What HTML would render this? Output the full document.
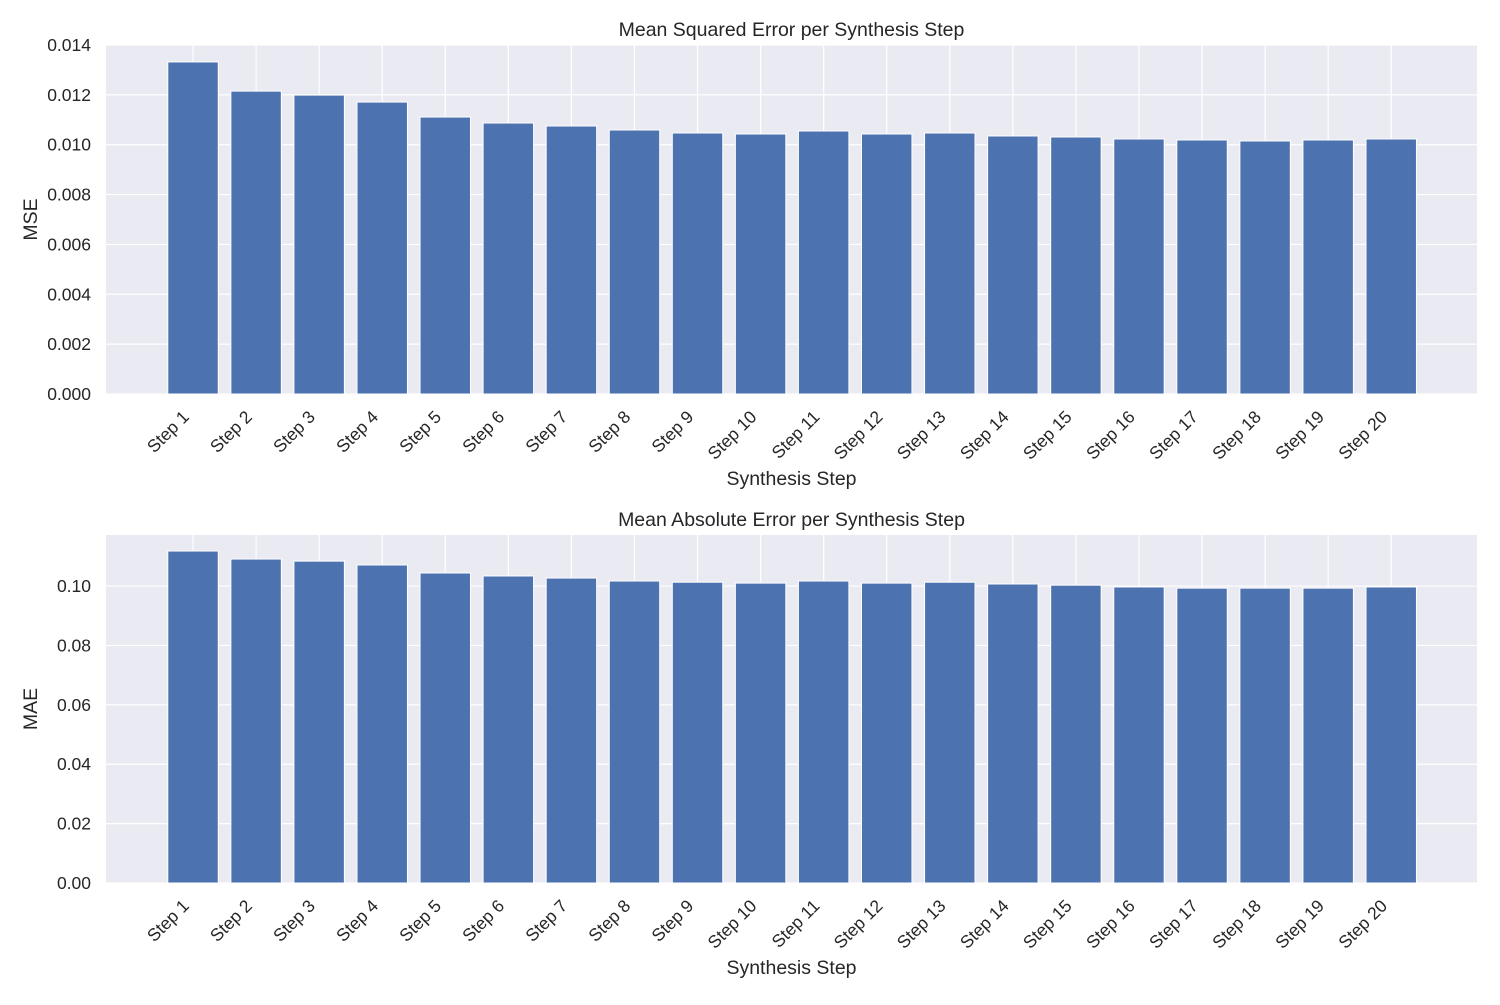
<!DOCTYPE html>
<html><head><meta charset="utf-8"><style>
body{margin:0;background:#fff;}
svg text{font-family:"Liberation Sans",sans-serif;fill:#262626;}
</style></head><body>
<svg id="chart" width="1500" height="1000" xmlns="http://www.w3.org/2000/svg"></svg>
<script>
const categories=["Step 1","Step 2","Step 3","Step 4","Step 5","Step 6","Step 7","Step 8","Step 9","Step 10","Step 11","Step 12","Step 13","Step 14","Step 15","Step 16","Step 17","Step 18","Step 19","Step 20"];
const mseValues=[0.01332,0.01215,0.01199,0.01171,0.01111,0.01087,0.01075,0.01059,0.01047,0.01043,0.01055,0.01043,0.01047,0.01035,0.01031,0.01023,0.01019,0.01015,0.01019,0.01023];
const maeValues=[0.1118,0.1091,0.1084,0.1071,0.1044,0.1034,0.1027,0.1017,0.1013,0.1010,0.1017,0.1010,0.1013,0.1007,0.1003,0.0997,0.0993,0.0993,0.0993,0.0997];
const mseTicks=["0.000","0.002","0.004","0.006","0.008","0.010","0.012","0.014"];
const maeTicks=["0.00","0.02","0.04","0.06","0.08","0.10"];
const svg=document.getElementById('chart');
const NS='http://www.w3.org/2000/svg';
function mk(tag,attrs,parent){const e=document.createElementNS(NS,tag);for(const k in attrs)e.setAttribute(k,attrs[k]);(parent||svg).appendChild(e);return e;}
function panel(cfg){
  const L=106,R=1477,T=cfg.top,B=cfg.bottom;
  const xmin=-1.38,xmax=categories.length-1+1.36;
  const xs=i=>L+(i-xmin)/(xmax-xmin)*(R-L);
  const ys=v=>B-(v/cfg.ymax)*(B-T);
  const g=mk('g',{});
  
  
  const bg=mk('rect',{x:L,y:T,width:R-L,height:B-T,fill:'#EAEAF2'},g);
  
  
  cfg.ticks.forEach(t=>{const y=ys(parseFloat(t));
    const gl=mk('line',{x1:L,x2:R,y1:y,y2:y,stroke:'#fff','stroke-width':1.2},g);
    
    
    const tx=mk('text',{x:L-15,y:y+6,'text-anchor':'end','font-size':17.5},g);tx.textContent=t;
    
    
  });
  categories.forEach((c,i)=>{const x=xs(i);
    const gl=mk('line',{x1:x,x2:x,y1:T,y2:B,stroke:'#fff','stroke-width':1.2},g);
    
    
  });
  cfg.values.forEach((v,i)=>{const x=xs(i),w=0.8*(xs(1)-xs(0));
    const r=mk('rect',{x:x-w/2,y:ys(v),width:w,height:B-ys(v),fill:'#4C72B0',stroke:'#fff','stroke-width':1},g);
    
    
  });
  categories.forEach((c,i)=>{const x=xs(i)-3,y=B+24;
    const tx=mk('text',{x:x,y:y,'text-anchor':'end','font-size':17.5,transform:`rotate(-45 ${x} ${y})`},g);tx.textContent=c;
    
    
  });
  const title=mk('text',{x:(L+R)/2,y:T-9,'text-anchor':'middle','font-size':19.5},g);title.textContent=cfg.title;
  
  
  const xl=mk('text',{x:(L+R)/2,y:B+91,'text-anchor':'middle','font-size':19.5},g);xl.textContent='Synthesis Step';
  
  
  const yc=(T+B)/2;
  const yl=mk('text',{x:37,y:yc,'text-anchor':'middle','font-size':19.5,transform:`rotate(-90 37 ${yc})`},g);yl.textContent=cfg.ylabel;
  
  
}
panel({name:'mse',top:45,bottom:394,ymax:0.014,values:mseValues,ticks:mseTicks,title:'Mean Squared Error per Synthesis Step',ylabel:'MSE'});
panel({name:'mae',top:535,bottom:883,ymax:0.1172,values:maeValues,ticks:maeTicks,title:'Mean Absolute Error per Synthesis Step',ylabel:'MAE'});
</script>
</body></html>
